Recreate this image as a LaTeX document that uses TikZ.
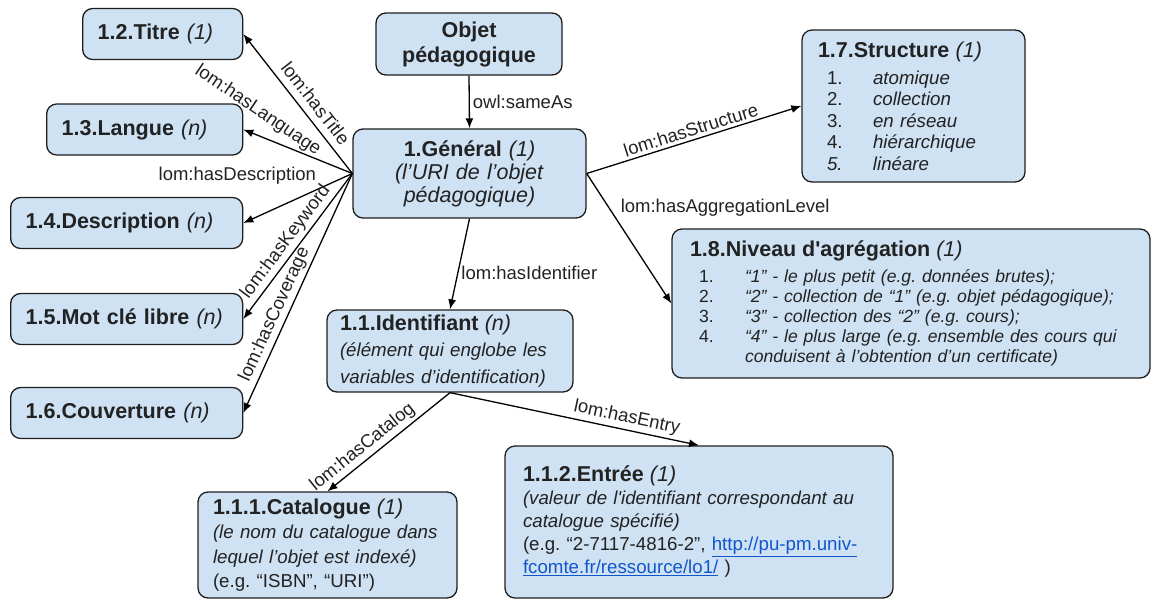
\documentclass[tikz,border=0pt]{standalone}
\usepackage{fontspec}
\setmainfont{Liberation Sans}
\usepackage{xcolor}
\usetikzlibrary{arrows.meta}
\definecolor{OntoFill}{HTML}{CFE2F3}
\definecolor{OntoLine}{HTML}{1E1E1E}
\definecolor{OntoText}{HTML}{222222}
\definecolor{OntoLink}{HTML}{1155CC}
\newcommand{\ontohead}{\fontsize{21.5}{24}\selectfont}
\newcommand{\ontonum}[1]{\hspace*{9pt}\makebox[46pt][l]{#1}}
\newcommand{\ontolink}[1]{{\color{OntoLink}\underline{#1}}}
\tikzset{
  >={Latex[length=10pt,width=8pt]},
  ontobox/.style={draw=OntoLine,line width=1.3pt,rounded corners=10pt,fill=OntoFill,
    text=OntoText,align=left,inner xsep=15pt,inner ysep=0pt,
    font=\fontsize{18.7}{22}\selectfont},
  leafbox/.style={ontobox,minimum height=51pt,font=\ontohead},
  relation/.style={->,line width=1.3pt,draw=black},
  relname/.style={font=\fontsize{18.5}{20}\selectfont,text=OntoText,inner sep=3pt}
}
\begin{document}
\frenchspacing\hyphenpenalty=10000\exhyphenpenalty=10000
\begin{tikzpicture}[x=1pt,y=-1pt]
  \useasboundingbox (0,0) rectangle (1153,600);
  \foreach \name/\x/\y/\tw/\head/\card in {titre/82/34/130/1.2.Titre/(1),langue/46/129.5/166/1.3.Langue/(n),description/10/223/202/1.4.Description/(n),motcle/10/319/202/1.5.Mot clé libre/(n),couverture/10/413/202/1.6.Couverture/(n)}
    \node[leafbox,text width=\tw pt,anchor=west] (\name) at (\x,\y) {\textbf{\head} \textit{\card}};
  \node[ontobox,align=center,text width=156pt,minimum height=62pt,
    font=\fontsize{21.5}{25}\selectfont\bfseries] (objet) at (469,44) {Objet\\pédagogique};
  \node[ontobox,align=center,text width=203pt,minimum height=89pt,
    font=\fontsize{21.5}{23}\selectfont] (general) at (469.5,173.5)
    {\textbf{1.Général} \textit{(1)}\\\textit{(l’URI de l’objet}\\\textit{pédagogique)}};
  \node[ontobox,text width=191pt,inner xsep=16pt,minimum height=152pt,
    font=\fontsize{18.7}{21.5}\selectfont] (structure) at (913.5,106)
    {{\ontohead\textbf{1.7.Structure} \textit{(1)}}\\[5.5pt]
     \ontonum{1.}\textit{atomique}\\
     \ontonum{2.}\textit{collection}\\
     \ontonum{3.}\textit{en réseau}\\
     \ontonum{4.}\textit{hiérarchique}\\
     \ontonum{\textit{5.}}\textit{linéare}};
  \node[ontobox,text width=442pt,inner xsep=18pt,minimum height=149pt,
    font=\fontsize{17.6}{20}\selectfont] (niveau) at (911,303.5)
    {{\ontohead\textbf{1.8.Niveau d\textquotesingle agrégation} \textit{(1)}}\\[6pt]
     \ontonum{1.}\textit{“1” - le plus petit (e.g. données brutes);}\\
     \ontonum{2.}\textit{“2” - collection de “1” (e.g. objet pédagogique);}\\
     \ontonum{3.}\textit{“3” - collection des “2” (e.g. cours);}\\
     \ontonum{4.}\textit{“4” - le plus large (e.g. ensemble des cours qui}\\
     \hspace*{55pt}\textit{conduisent à l’obtention d’un certificate)}};
  \node[ontobox,text width=220pt,inner xsep=13pt,minimum height=82pt,
    font=\fontsize{18.7}{26.5}\selectfont] (identifiant) at (450,351)
    {{\ontohead\textbf{1.1.Identifiant} \textit{(n)}}\\
     \textit{(élément qui englobe les}\\
     \textit{variables d’identification)}};
  \node[ontobox,text width=229pt,minimum height=106pt,
    font=\fontsize{18.7}{24.5}\selectfont] (catalogue) at (327.5,545)
    {{\ontohead\textbf{1.1.1.Catalogue} \textit{(1)}}\\
     \textit{(le nom du catalogue dans}\\
     \textit{lequel l’objet est indexé)}\\
     (e.g. “ISBN”, “URI”)};
  \node[ontobox,text width=352pt,inner xsep=18pt,minimum height=152pt,
    font=\fontsize{18.7}{23}\selectfont] (entree) at (699,522)
    {{\ontohead\textbf{1.1.2.Entrée} \textit{(1)}}\\
     \textit{(valeur de l\textquotesingle identifiant correspondant au}\\
     \textit{catalogue spécifié)}\\
     (e.g. “2-7117-4816-2”, \ontolink{http://pu-pm.univ-}\\
     \ontolink{fcomte.fr/ressource/lo1/} )};

  \draw[relation] (objet.south) -- node[relname,right]{owl:sameAs} (general.north);
  \draw[relation] (general.west) -- node[relname,sloped,above=4pt,pos=0.44]{lom:hasTitle} (titre.east);
  \draw[relation] (general.west) -- node[relname,pos=0.5,xshift=-40pt,yshift=41pt,rotate=-34]{lom:hasLanguage} (langue.east);
  \draw[relation] (general.west) -- node[relname,pos=0.3,above left]{lom:hasDescription} (description.east);
  \draw[relation] (general.west) -- node[relname,sloped,above,pos=0.52]{lom:hasKeyword} (motcle.east);
  \draw[relation] (general.west) -- node[relname,sloped,above,pos=0.61]{lom:hasCoverage} (couverture.east);
  \draw[relation] (general.east) -- node[relname,sloped,above]{lom:hasStructure} (structure.west);
  \draw[relation] (general.east) -- node[relname,pos=0.36,above right]{lom:hasAggregationLevel} (niveau.west);
  \draw[relation] (general.south) -- node[relname,right,pos=0.6]{lom:hasIdentifier} (identifiant.north);
  \draw[relation] (identifiant.south) -- node[relname,sloped,above,pos=0.65]{lom:hasCatalog} (catalogue.north);
  \draw[relation] (identifiant.south) -- node[relname,sloped,above,pos=0.7]{lom:hasEntry} (entree.north);
\end{tikzpicture}
\end{document}
